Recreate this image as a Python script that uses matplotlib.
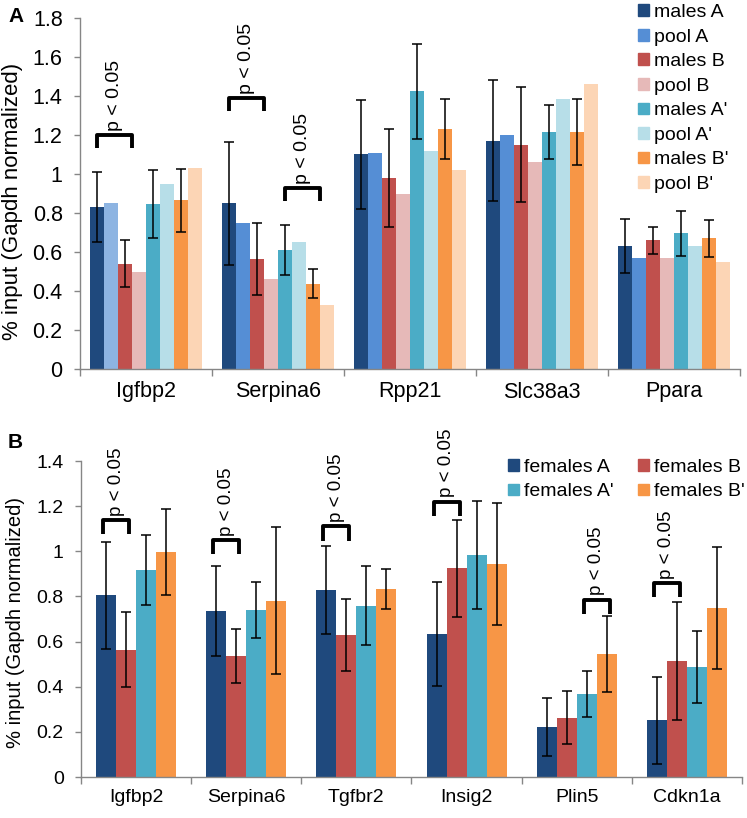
import numpy as np
import matplotlib
matplotlib.use('Agg')
import matplotlib.pyplot as plt
from matplotlib.patches import Patch
from matplotlib.ticker import FuncFormatter, FixedLocator

plt.rcParams['font.family'] = ['Liberation Sans', 'DejaVu Sans']

# ---- panel A data ----
top_genes = ['Igfbp2', 'Serpina6', 'Rpp21', 'Slc38a3', 'Ppara']
top_series = ['males A', 'pool A', 'males B', 'pool B',
              "males A'", "pool A'", "males B'", "pool B'"]
males_A = [0.83, 0.85, 1.10, 1.17, 0.63]
males_A_err = [0.18, 0.315, 0.28, 0.31, 0.137]
pool_A = [0.85, 0.75, 1.11, 1.20, 0.57]
males_B = [0.54, 0.565, 0.98, 1.15, 0.66]
males_B_err = [0.12, 0.185, 0.25, 0.295, 0.07]
pool_B = [0.50, 0.46, 0.90, 1.06, 0.57]
males_A2 = [0.845, 0.61, 1.425, 1.215, 0.695]
males_A2_err = [0.173, 0.13, 0.243, 0.14, 0.115]
pool_A2 = [0.95, 0.65, 1.12, 1.385, 0.63]
males_B2 = [0.865, 0.437, 1.23, 1.215, 0.67]
males_B2_err = [0.16, 0.075, 0.154, 0.17, 0.095]
pool_B2 = [1.03, 0.33, 1.02, 1.46, 0.55]

# ---- panel B data ----
bot_genes = ['Igfbp2', 'Serpina6', 'Tgfbr2', 'Insig2', 'Plin5', 'Cdkn1a']
bot_series = ['females A', 'females B', "females A'", "females B'"]
fem_A = [0.805, 0.736, 0.829, 0.634, 0.222, 0.251]
fem_A_err = [0.238, 0.20, 0.195, 0.23, 0.13, 0.194]
fem_B = [0.564, 0.536, 0.629, 0.925, 0.263, 0.514]
fem_B_err = [0.166, 0.12, 0.16, 0.215, 0.118, 0.26]
fem_A2 = [0.919, 0.74, 0.758, 0.985, 0.368, 0.489]
fem_A2_err = [0.155, 0.125, 0.175, 0.24, 0.102, 0.16]
fem_B2 = [0.997, 0.781, 0.833, 0.942, 0.544, 0.75]
fem_B2_err = [0.19, 0.325, 0.09, 0.27, 0.168, 0.27]

# significance brackets: (gene index, bar i, bar j, height)
top_sig = [(0, 0, 2, 1.20), (1, 0, 2, 1.39), (1, 4, 6, 0.928)]
bot_sig = [(0, 0, 1, 1.14), (1, 0, 1, 1.05), (2, 0, 1, 1.11),
           (3, 0, 1, 1.22), (4, 2, 3, 0.786), (5, 0, 1, 0.86)]

dark_blue = '#1F497D'
blue = '#558ED5'
red = '#C0504D'
pink = '#E6B9B8'
teal = '#4BACC6'
light_teal = '#B7DEE8'
orange = '#F79646'
peach = '#FCD5B5'
spine_col = '#868686'

top_vals = [males_A, pool_A, males_B, pool_B, males_A2, pool_A2, males_B2, pool_B2]
top_errs = [males_A_err, None, males_B_err, None, males_A2_err, None, males_B2_err, None]
top_cols = [dark_blue, blue, red, pink, teal, light_teal, orange, peach]

bot_vals = [fem_A, fem_B, fem_A2, fem_B2]
bot_errs = [fem_A_err, fem_B_err, fem_A2_err, fem_B2_err]
bot_cols = [dark_blue, red, teal, orange]

fig = plt.figure(figsize=(7.47, 8.18), dpi=100)
ax1 = fig.add_axes([80/747, 1-369/818, 660/747, 351/818])
ax2 = fig.add_axes([81/747, 1-777/818, 661/747, 316/818])


def draw_panel(ax, genes, vals, errs, cols, width, ymax, fs, lfs):
    x = np.arange(len(genes))
    n = len(vals)
    start = -n*width/2
    for k in range(n):
        pos = x + start + width*(k+0.5)
        ax.bar(pos, vals[k], width, color=cols[k], linewidth=0, zorder=2)
        if errs[k] is not None:
            ax.errorbar(pos, vals[k], yerr=errs[k], fmt='none', ecolor='black',
                        elinewidth=1.1, capsize=3.8, capthick=1.1, zorder=3)
    ax.set_xlim(-0.5, len(genes)-0.5)
    ax.set_ylim(0, ymax)
    for s in ['top', 'right']:
        ax.spines[s].set_visible(False)
    for s in ['left', 'bottom']:
        ax.spines[s].set_color(spine_col)
        ax.spines[s].set_linewidth(1.0)
    ax.set_xticks(x)
    ax.set_xticklabels(genes, fontsize=fs)
    ax.tick_params(axis='x', which='major', length=0, pad=9)
    ax.xaxis.set_minor_locator(FixedLocator(np.arange(len(genes)+1)-0.5))
    ax.tick_params(axis='x', which='minor', length=5, color=spine_col, width=1.0)
    ax.set_yticks(np.arange(0, ymax+0.01, 0.2))
    ax.yaxis.set_major_formatter(FuncFormatter(lambda v, p: f'{v:g}'))
    ax.tick_params(axis='y', length=4.5, color=spine_col, width=1.0, labelsize=fs, pad=8)
    ax.set_ylabel('% input (Gapdh normalized)', fontsize=lfs)
    return start


def brackets(ax, sigs, start, width, y_drop, left_off, right_off, fs):
    for g, i, j, y in sigs:
        x0 = g + start + width*(i+0.5) + left_off*width
        x1 = g + start + width*(j+0.5) + right_off*width
        ax.plot([x0, x0, x1, x1], [y-y_drop, y, y, y-y_drop], color='black',
                lw=2.8, solid_joinstyle='round', solid_capstyle='butt',
                zorder=4, clip_on=False)
        ax.annotate('p < 0.05', xy=((x0+x1)/2, y), xytext=(0, 3),
                    textcoords='offset points', rotation=90, ha='center',
                    va='bottom', fontsize=fs, annotation_clip=False)


w1 = 14/132
s1 = draw_panel(ax1, top_genes, top_vals, top_errs, top_cols, w1, 1.8, 15.5, 16)
# first pool A bar is drawn in a lighter blue in the original
ax1.patches[5].set_facecolor('#8DB4E2')
brackets(ax1, top_sig, s1, w1, 0.067, 0.0, 0.5, 14)
ax1.yaxis.set_label_coords(-0.086, 0.476)

w2 = 20/110
s2 = draw_panel(ax2, bot_genes, bot_vals, bot_errs, bot_cols, w2, 1.4, 14, 14.5)
brackets(ax2, bot_sig, s2, w2, 0.063, -0.15, 0.15, 13.5)
ax2.yaxis.set_label_coords(-0.085, 0.49)

# legends
top_handles = [Patch(color=c, label=l) for c, l in zip(top_cols, top_series)]
fig.legend(handles=top_handles, loc='upper left', bbox_to_anchor=(638/747, 1-4/818),
           frameon=False, fontsize=14, handlelength=0.55, handleheight=0.55,
           handletextpad=0.25, labelspacing=0.39, borderpad=0, borderaxespad=0)

bot_order = [0, 2, 1, 3]
bot_handles = [Patch(color=bot_cols[k], label=bot_series[k]) for k in bot_order]
fig.legend(handles=bot_handles, loc='upper left', bbox_to_anchor=(508/747, 1-459/818),
           ncol=2, frameon=False, fontsize=14, handlelength=0.55, handleheight=0.55,
           handletextpad=0.25, labelspacing=0.38, columnspacing=1.3,
           borderpad=0, borderaxespad=0)

fig.text(8/747, 1-16/818, 'A', fontsize=15, fontweight='bold', va='center')
fig.text(8/747, 1-442/818, 'B', fontsize=15, fontweight='bold', va='center')

fig.savefig('out.png', dpi=100)
